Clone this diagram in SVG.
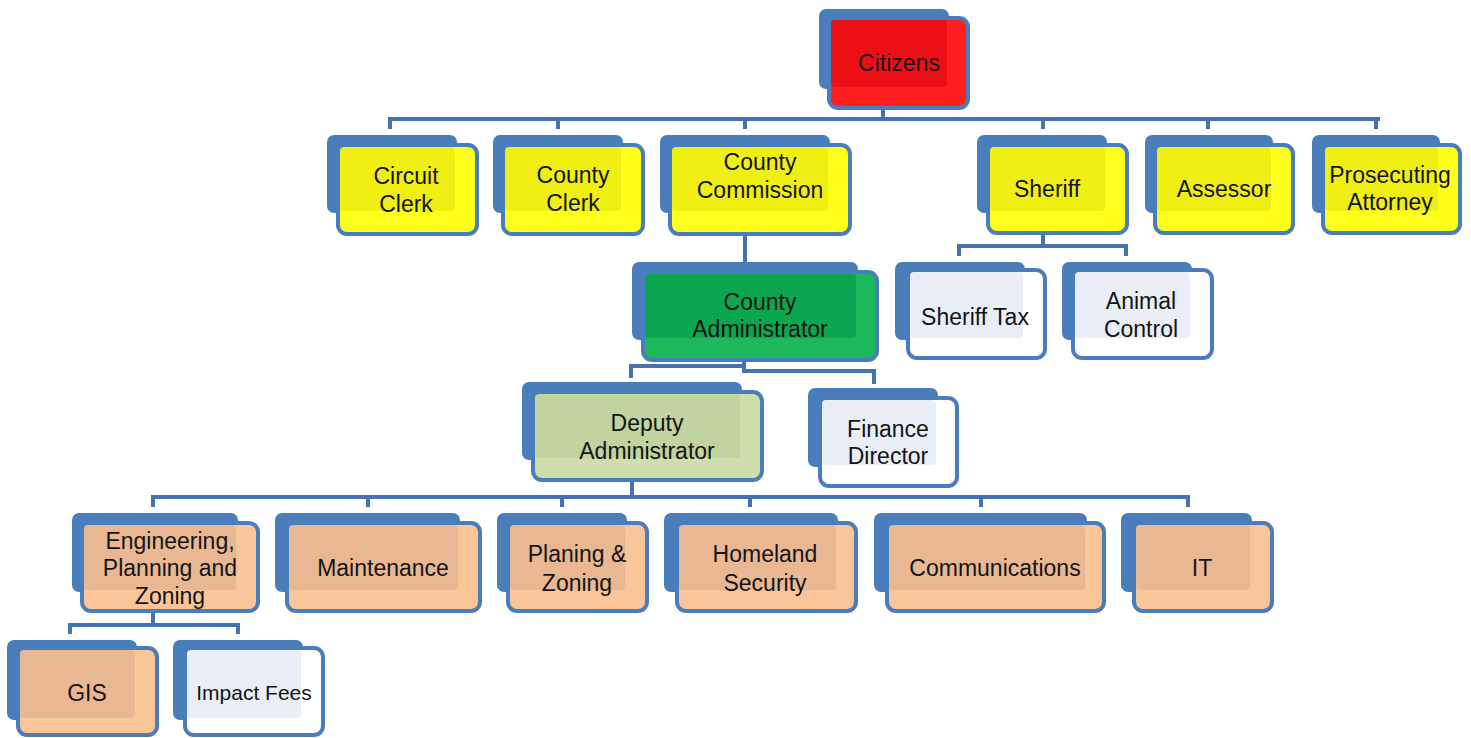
<svg xmlns="http://www.w3.org/2000/svg" width="1471" height="738" viewBox="0 0 1471 738">
<style>
.bk{fill:#4a7ebb}
.fr{stroke:#4a7dbb;stroke-width:4}
.red .fr{fill:#ff1f1f}.red .ov{fill:#ec1016}
.yel .fr{fill:#ffff1c}.yel .ov{fill:#efef12}
.grn .fr{fill:#1db75c}.grn .ov{fill:#0ba650}
.olv .fr{fill:#cfdfab}.olv .ov{fill:#c1d39e}
.wht .fr{fill:#ffffff}.wht .ov{fill:#e9eef7}
.org .fr{fill:#fbc59a}.org .ov{fill:#e9b893}
text{font-family:"Liberation Sans",Arial,sans-serif;font-size:23px;fill:#141414;text-anchor:middle}
.sm{font-size:21px}
.ln{fill:none;stroke:#4672b0;stroke-width:4}
</style>
<g id="connectors">
<path class="ln" d="M883,108V119M388,119H1380M390,119V129M558,119V129M745,119V129M1043,119V129M1208,119V129M1376,119V129"/>
<path class="ln" d="M745,234V262"/>
<path class="ln" d="M1043,232V246M957,246H1128M959,246V256M1126,246V256"/>
<path class="ln" d="M744,360V366H631V378M744,366V371H874V384"/>
<path class="ln" d="M632,480V497M151,497H1190M153,497V507M368,497V507M562,497V507M750,497V507M981,497V507M1188,497V507"/>
<path class="ln" d="M153,611V625M68,625H240M70,625V634M238,625V634"/>
</g>
<g id="citizens" class="red"><rect class="bk" x="819" y="9" width="130" height="80" rx="7"/><rect class="fr" x="829" y="18" width="139" height="90" rx="9"/><rect class="ov" x="831" y="20" width="116" height="67" rx="4"/><text x="899" y="71">Citizens</text></g>
<g id="circuit-clerk" class="yel"><rect class="bk" x="327" y="135" width="130" height="78" rx="7"/><rect class="fr" x="338" y="145" width="139" height="89" rx="9"/><rect class="ov" x="340" y="147" width="115" height="64" rx="4"/><text x="406" y="184">Circuit</text><text x="406" y="212">Clerk</text></g>
<g id="county-clerk" class="yel"><rect class="bk" x="493" y="135" width="130" height="78" rx="7"/><rect class="fr" x="503" y="145" width="140" height="89" rx="9"/><rect class="ov" x="505" y="147" width="116" height="64" rx="4"/><text x="573" y="183">County</text><text x="573" y="211">Clerk</text></g>
<g id="county-commission" class="yel"><rect class="bk" x="660" y="135" width="170" height="78" rx="7"/><rect class="fr" x="670" y="145" width="180" height="89" rx="9"/><rect class="ov" x="672" y="147" width="156" height="64" rx="4"/><text x="760" y="170">County</text><text x="760" y="198">Commission</text></g>
<g id="sheriff" class="yel"><rect class="bk" x="977" y="135" width="130" height="78" rx="7"/><rect class="fr" x="988" y="145" width="139" height="88" rx="9"/><rect class="ov" x="990" y="147" width="115" height="64" rx="4"/><text x="1047" y="197">Sheriff</text></g>
<g id="assessor" class="yel"><rect class="bk" x="1145" y="135" width="128" height="78" rx="7"/><rect class="fr" x="1155" y="145" width="138" height="88" rx="9"/><rect class="ov" x="1157" y="147" width="114" height="64" rx="4"/><text x="1224" y="197">Assessor</text></g>
<g id="prosecuting-attorney" class="yel"><rect class="bk" x="1312" y="135" width="128" height="78" rx="7"/><rect class="fr" x="1323" y="145" width="137" height="88" rx="9"/><rect class="ov" x="1325" y="147" width="113" height="64" rx="4"/><text x="1390" y="183">Prosecuting</text><text x="1390" y="210">Attorney</text></g>
<g id="county-administrator" class="grn"><rect class="bk" x="632" y="262" width="226" height="78" rx="7"/><rect class="fr" x="643" y="272" width="234" height="88" rx="9"/><rect class="ov" x="645" y="274" width="211" height="64" rx="4"/><text x="760" y="310">County</text><text x="760" y="337">Administrator</text></g>
<g id="sheriff-tax" class="wht"><rect class="bk" x="895" y="262" width="130" height="78" rx="7"/><rect class="fr" x="908" y="270" width="137" height="88" rx="9"/><rect class="ov" x="910" y="272" width="113" height="66" rx="4"/><text x="975" y="325">Sheriff Tax</text></g>
<g id="animal-control" class="wht"><rect class="bk" x="1062" y="262" width="130" height="78" rx="7"/><rect class="fr" x="1073" y="270" width="139" height="88" rx="9"/><rect class="ov" x="1075" y="272" width="115" height="66" rx="4"/><text x="1141" y="309">Animal</text><text x="1141" y="337">Control</text></g>
<g id="deputy-administrator" class="olv"><rect class="bk" x="522" y="382" width="220" height="78" rx="7"/><rect class="fr" x="533" y="392" width="229" height="88" rx="9"/><rect class="ov" x="535" y="394" width="205" height="64" rx="4"/><text x="647" y="431">Deputy</text><text x="647" y="459">Administrator</text></g>
<g id="finance-director" class="wht"><rect class="bk" x="808" y="388" width="130" height="79" rx="7"/><rect class="fr" x="820" y="398" width="137" height="88" rx="9"/><rect class="ov" x="822" y="400" width="114" height="65" rx="4"/><text x="888" y="437">Finance</text><text x="888" y="464">Director</text></g>
<g id="engineering" class="org"><rect class="bk" x="72" y="513" width="166" height="79" rx="7"/><rect class="fr" x="82" y="523" width="176" height="88" rx="9"/><rect class="ov" x="84" y="525" width="152" height="65" rx="4"/><text x="170" y="549">Engineering,</text><text x="170" y="576">Planning and</text><text x="170" y="604">Zoning</text></g>
<g id="maintenance" class="org"><rect class="bk" x="275" y="513" width="185" height="79" rx="7"/><rect class="fr" x="287" y="523" width="193" height="88" rx="9"/><rect class="ov" x="289" y="525" width="169" height="65" rx="4"/><text x="383" y="576">Maintenance</text></g>
<g id="planing-zoning" class="org"><rect class="bk" x="497" y="513" width="130" height="79" rx="7"/><rect class="fr" x="508" y="523" width="139" height="88" rx="9"/><rect class="ov" x="510" y="525" width="115" height="65" rx="4"/><text x="577" y="562">Planing &amp;</text><text x="577" y="591">Zoning</text></g>
<g id="homeland-security" class="org"><rect class="bk" x="664" y="513" width="174" height="79" rx="7"/><rect class="fr" x="677" y="523" width="179" height="88" rx="9"/><rect class="ov" x="679" y="525" width="157" height="65" rx="4"/><text x="765" y="562">Homeland</text><text x="765" y="591">Security</text></g>
<g id="communications" class="org"><rect class="bk" x="874" y="513" width="213" height="79" rx="7"/><rect class="fr" x="887" y="523" width="217" height="88" rx="9"/><rect class="ov" x="889" y="525" width="196" height="65" rx="4"/><text x="995" y="576">Communications</text></g>
<g id="it" class="org"><rect class="bk" x="1121" y="513" width="131" height="79" rx="7"/><rect class="fr" x="1134" y="523" width="138" height="88" rx="9"/><rect class="ov" x="1136" y="525" width="114" height="65" rx="4"/><text x="1202" y="576">IT</text></g>
<g id="gis" class="org"><rect class="bk" x="7" y="640" width="130" height="80" rx="7"/><rect class="fr" x="18" y="648" width="139" height="87" rx="9"/><rect class="ov" x="20" y="650" width="115" height="68" rx="4"/><text x="87" y="701">GIS</text></g>
<g id="impact-fees" class="wht"><rect class="bk" x="173" y="640" width="130" height="80" rx="7"/><rect class="fr" x="185" y="648" width="138" height="87" rx="9"/><rect class="ov" x="187" y="650" width="114" height="68" rx="4"/><text class="sm" x="254" y="700">Impact Fees</text></g>
</svg>
